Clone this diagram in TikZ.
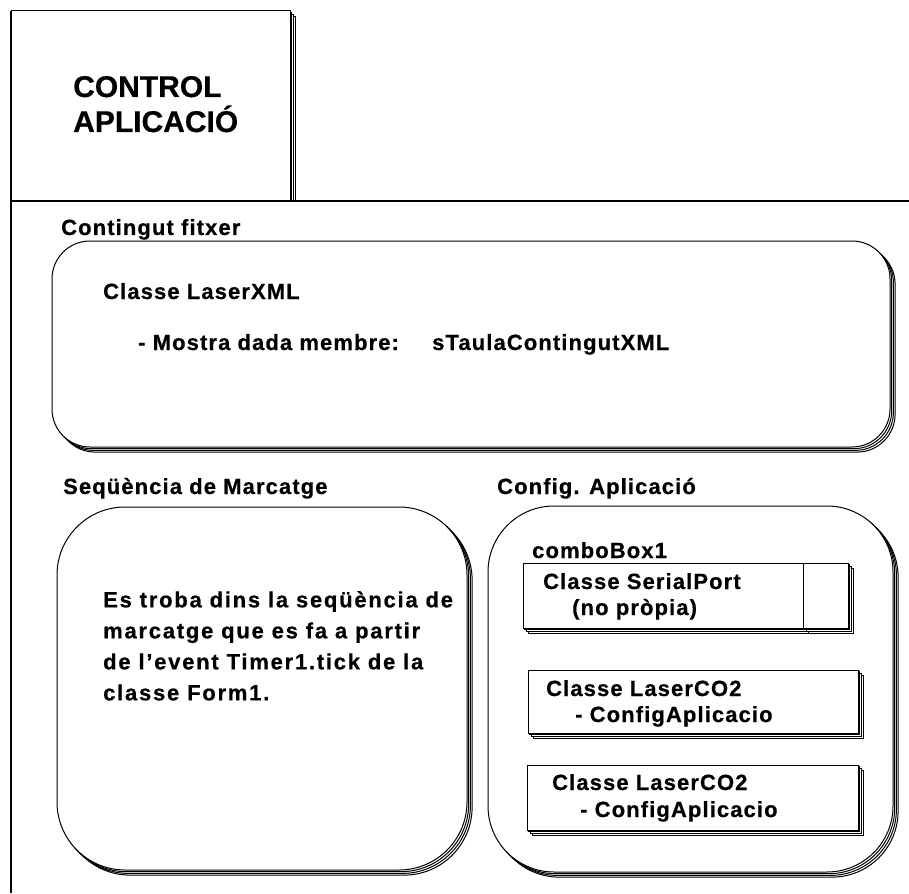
\documentclass[tikz,border=0pt]{standalone}
\usepackage{fontspec}
\setmainfont{Liberation Sans}[LetterSpace=5, BoldFeatures={FakeBold=0.6}]
\newfontfamily\titlefont{Liberation Sans}[BoldFeatures={FakeBold=0.6}]
\begin{document}
% one unit = 1pt, y grows downwards
\begin{tikzpicture}[x=1pt,y=-1pt,
  outline/.style={draw=black, line width=1pt, fill=white},
  frameline/.style={draw=black, line width=1.4pt},
  txt/.style={inner sep=0pt, anchor=base west, font=\fontsize{22}{30}\selectfont\bfseries},
  caption/.style={txt},
  title/.style={inner sep=0pt, anchor=base west, font=\titlefont\fontsize{30}{35}\selectfont\bfseries}]
\useasboundingbox (0,0) rectangle (909,893);
% a shape drawn with three stacked copies behind it
\newcommand{\layered}[2]{%
  \foreach \k in {3,2,1}{\path[outline, rounded corners=#1, shift={(\k*1.7,\k*1.7)}] #2;}
  \path[outline, rounded corners=#1] #2;}

% title block
\layered{0pt}{(11,11) rectangle (290,201)}
\node[title] (t1) at (73,97) {CONTROL};
\node[title] (t2) at (73,132) {APLICACIÓ};

% main frame: open on the right and at the bottom
\fill[white] (11,201) rectangle (909,893);
\draw[frameline] (11,11) -- (11,893);
\draw[frameline] (11,201) -- (909,201);

% file contents
\node[caption] (capfile) at (61,235) {Contingut fitxer};
\layered{38pt}{(52,241) rectangle (890,447)}
\node[txt] (laserxml) at (103,299) {Classe LaserXML};
\node[txt] (mostra) at (138,350) {- Mostra dada membre:};
\node[txt] (taula) at (432,350) {sTaulaContingutXML};

% marking sequence
\node[caption] (capseq) at (63,494) {Seqüència de Marcatge};
\layered{68pt}{(57,507) rectangle (467,870)}
\node[txt, anchor=north west, align=left,
      font=\fontsize{22}{31}\selectfont\bfseries\addfontfeatures{LetterSpace=8}] (seqtext) at (103,591)
  {Es troba dins la seqüència de\\marcatge que es fa a partir\\de l'event Timer1.tick de la\\classe Form1.};

% application settings
\node[caption] (capcfg) at (497,494) {Config. Aplicació};
\layered{66pt}{(488,506) rectangle (893,872)}
\node[txt] (combo) at (532,558) {comboBox1};

\layered{0pt}{(523,563) rectangle (803,628)}
\layered{0pt}{(803,563) rectangle (848,628)}
\node[txt] (serial) at (543,589) {Classe SerialPort};
\node[txt] (nopropia) at (572,615) {(no pròpia)};

\layered{0pt}{(528,670) rectangle (858,733)}
\node[txt] (laserA) at (546,696) {Classe LaserCO2};
\node[txt] (configA) at (575,722) {- ConfigAplicacio};

\layered{0pt}{(527,765) rectangle (858,830)}
\node[txt] (laserB) at (552,790) {Classe LaserCO2};
\node[txt] (configB) at (580,817) {- ConfigAplicacio};
\end{tikzpicture}
\end{document}
